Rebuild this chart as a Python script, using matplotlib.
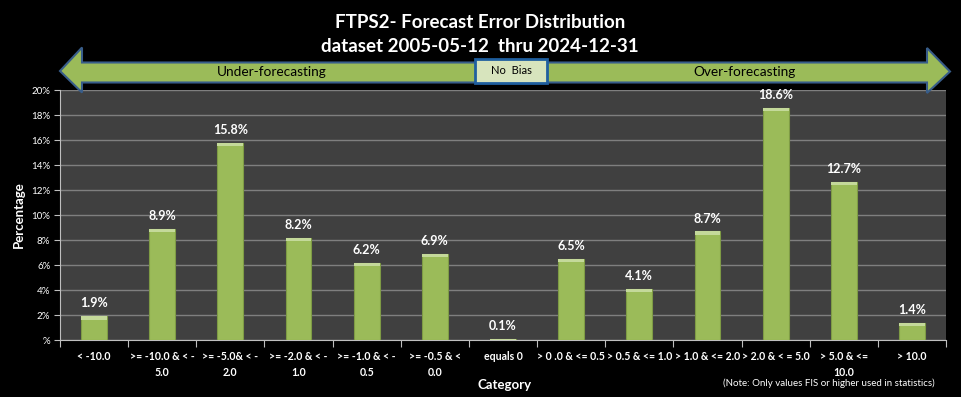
import matplotlib
matplotlib.use("Agg")
import matplotlib.pyplot as plt
from matplotlib.patches import Polygon, Rectangle
from matplotlib.ticker import FixedLocator, FuncFormatter
import numpy as np

plt.rcParams['font.family'] = ['Lato', 'DejaVu Sans']

categories = ["< -10.0", ">= -10.0 & < -\n5.0", ">= -5.0& < -\n2.0", ">= -2.0 & < -\n1.0",
              ">= -1.0 & < -\n0.5", ">= -0.5 & <\n0.0", "equals 0", "> 0 .0 & <= 0.5",
              "> 0.5 & <= 1.0", "> 1.0 & <= 2.0", "> 2.0 & < = 5.0", "> 5.0 & <=\n10.0", "> 10.0"]
values = [1.9, 8.9, 15.8, 8.2, 6.2, 6.9, 0.1, 6.5, 4.1, 8.7, 18.6, 12.7, 1.4]
y_ticks = [0, 2, 4, 6, 8, 10, 12, 14, 16, 18, 20]
title_lines = ["FTPS2- Forecast Error Distribution", "dataset 2005-05-12  thru 2024-12-31"]

W, H = 961, 397
fig = plt.figure(figsize=(W / 100, H / 100), dpi=100, facecolor='black')

# plot area in pixel coordinates
L, R, T, B = 60, 946, 90.5, 340
ax = fig.add_axes([L / W, 1 - B / H, (R - L) / W, (B - T) / H])
ax.set_facecolor('#404040')

x = np.arange(len(categories))
bar_w = 0.38
ax.bar(x, values, width=bar_w, color='#9BBB59', edgecolor='#7E9B45', linewidth=0.8, zorder=3)
# top bevel highlight
bev = 0.28
ax.bar(x, [min(bev, v) for v in values], bottom=[v - min(bev, v) for v in values],
       width=bar_w, color='#C4D99A', linewidth=0, zorder=4)

for xi, v in zip(x, values):
    ax.annotate(f"{v:.1f}%", (xi, v), xytext=(0, 5), textcoords='offset points',
                ha='center', va='bottom', color='white', fontsize=9, fontweight='bold')

ax.set_xlim(-0.5, len(categories) - 0.5)
ax.set_ylim(0, 20)
ax.yaxis.set_major_locator(FixedLocator(y_ticks))
ax.yaxis.set_major_formatter(FuncFormatter(lambda v, p: "%" if v == 0 else f"{v:.0f}%"))
ax.grid(axis='y', color='#7F7F7F', linewidth=1.0, zorder=0)
ax.set_axisbelow(True)

ax.set_xticks(x)
ax.set_xticklabels(categories, fontsize=7.6, fontweight='bold', color='white', linespacing=1.55)
ax.xaxis.set_minor_locator(FixedLocator(np.arange(-0.5, len(categories), 1.0)))
ax.tick_params(axis='x', which='major', length=0, pad=8)
ax.tick_params(axis='x', which='minor', length=5, color='#BFBFBF', width=0.8)
ax.tick_params(axis='y', length=4, color='#BFBFBF', width=0.8, labelsize=7, labelcolor='white', pad=3)
for s in ['top', 'right']:
    ax.spines[s].set_visible(False)
for s in ['left', 'bottom']:
    ax.spines[s].set_color('#BFBFBF')
    ax.spines[s].set_linewidth(0.8)

# overlay for annotations in pixel coordinates
ov = fig.add_axes([0, 0, 1, 1], facecolor='none')
ov.set_xlim(0, W)
ov.set_ylim(H, 0)
ov.axis('off')

ov.text(480, 22, title_lines[0], ha='center', va='center', color='white', fontsize=13.5, fontweight='bold')
ov.text(480, 46, title_lines[1], ha='center', va='center', color='white', fontsize=13.5, fontweight='bold')

arrow = Polygon([(60, 71), (82, 47.5), (82, 62.5), (927, 62.5), (927, 48), (950, 71.5),
                 (927, 93), (927, 82.5), (82, 82.5), (82, 92.5)],
                closed=True, facecolor='#9BBB59', edgecolor='#385D8A', linewidth=1.5, zorder=5)
ov.add_patch(arrow)
ov.add_patch(Rectangle((475, 58.5), 72, 24, facecolor='#D7E4BD', edgecolor='#1F5F9F', linewidth=2, zorder=6))
ov.text(511, 71, "No  Bias", ha='center', va='center', fontsize=8, color='black', zorder=7)
ov.text(272, 72, "Under-forecasting", ha='center', va='center', fontsize=9.8, color='black', zorder=7)
ov.text(745, 72, "Over-forecasting", ha='center', va='center', fontsize=9.8, color='black', zorder=7)

ov.text(19, 215, "Percentage", rotation=90, ha='center', va='center', color='white', fontsize=9.5, fontweight='bold')
ov.text(505, 385, "Category", ha='center', va='center', color='white', fontsize=9.5, fontweight='bold')
ov.text(935, 383, "(Note: Only values FIS or higher used in statistics)", ha='right', va='center',
        color='white', fontsize=7)

fig.savefig("out.png", dpi=100, facecolor='black')
